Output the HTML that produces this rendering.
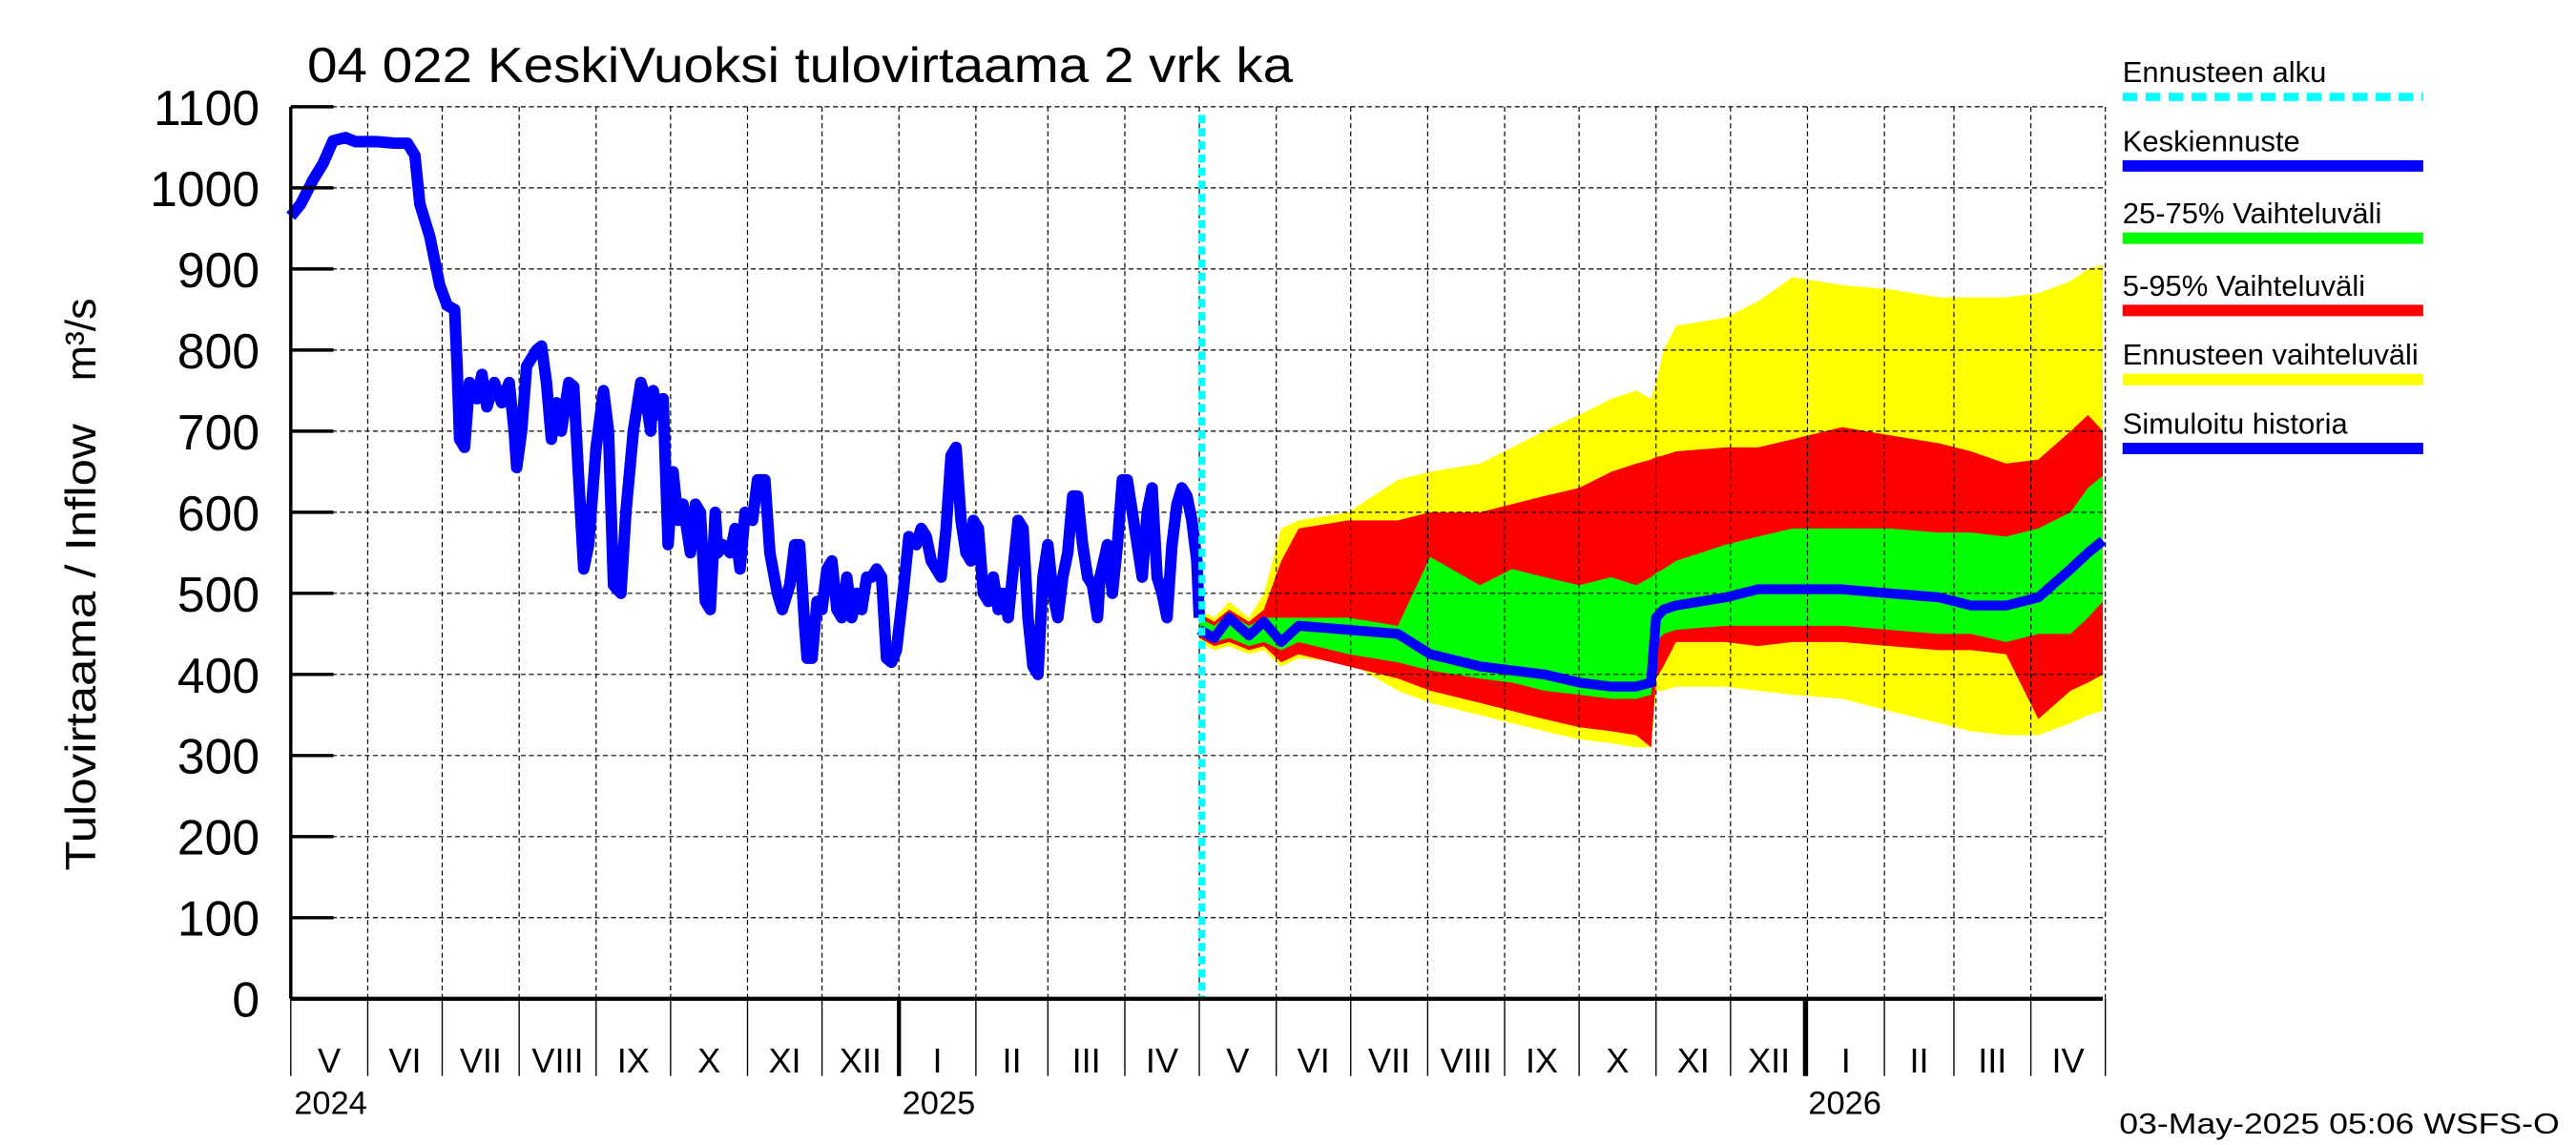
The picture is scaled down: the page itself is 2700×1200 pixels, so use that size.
<!DOCTYPE html>
<html><head><meta charset="utf-8"><style>
html,body{margin:0;padding:0;background:#fff;}
svg{display:block;font-family:"Liberation Sans",sans-serif;}
</style></head><body>
<svg id="chart" width="2700" height="1200" viewBox="0 0 1568 697" preserveAspectRatio="none" xmlns="http://www.w3.org/2000/svg">
<rect width="1568" height="697" fill="#fff"/>
<g id="bands"></g>
<g id="grid"></g>
<g id="lines"></g>
<g id="axes"></g>
<text x="187" y="50" font-size="30" textLength="600" lengthAdjust="spacingAndGlyphs">04 022 KeskiVuoksi tulovirtaama 2 vrk ka</text>
<text transform="translate(58,530) rotate(-90)" font-size="26" textLength="272" lengthAdjust="spacingAndGlyphs">Tulovirtaama / Inflow</text>
<text transform="translate(58,232) rotate(-90)" font-size="26">m³/s</text>
<text x="1290" y="690" font-size="18" textLength="268" lengthAdjust="spacingAndGlyphs">03-May-2025 05:06 WSFS-O</text>
<g id="legend"></g>
</svg>
<script>
const yTicks=[0,100,200,300,400,500,600,700,800,900,1000,1100];
const monthLabels=["V","VI","VII","VIII","IX","X","XI","XII","I","II","III","IV","V","VI","VII","VIII","IX","X","XI","XII","I","II","III","IV"];
const monthStartDays=[0,31,61,92,123,153,184,214,245,276,305,336,366,397,427,458,489,519,550,580,611,642,670,701,731];
const yearLabels=["2024","2025","2026"];
const yearDays=[0,245,610];
const forecastStartDay=367;
const histDays=[0,4,9,13,17,22,26,35,42,47,50,52,56,60,63,66,67,68,70,72,75,77,79,82,85,88,90,91,93,95,99,101,103,105,107,109,112,114,116,118,120,123,126,128,130,133,135,138,141,143,145,146,148,150,152,154,156,158,161,163,165,167,169,171,172,174,177,179,181,183,186,188,191,193,196,198,201,203,205,207,208,210,212,214,216,218,220,222,224,226,228,230,232,234,236,238,240,242,244,247,249,252,254,256,258,260,262,264,266,268,270,272,274,275,277,279,281,283,285,287,289,291,293,295,297,299,301,303,305,307,309,311,313,315,317,319,321,323,325,326,329,331,333,335,337,339,341,343,345,347,349,351,353,355,357,359,361,363,365,366];
const histValues=[965,980,1010,1030,1058,1062,1057,1057,1055,1055,1040,980,940,880,855,850,780,690,680,760,740,770,730,760,735,760,700,655,700,780,800,805,760,690,735,700,760,755,640,530,560,680,750,700,510,500,600,700,760,740,700,750,720,740,560,650,590,610,550,610,600,490,480,600,550,560,550,580,530,600,590,640,640,550,500,480,510,560,560,460,420,420,490,480,530,540,480,470,520,470,500,480,520,520,530,520,420,415,430,510,570,560,580,570,540,530,520,580,670,680,590,550,540,590,580,500,490,520,480,500,470,530,590,580,470,410,400,520,560,500,470,520,550,620,620,560,520,510,470,520,560,500,560,640,640,600,560,520,600,630,520,500,470,560,610,630,620,590,540,470];
const fcDays=[366,372,378,386,392,399,406,426,446,459,479,492,505,519,532,542,548,550,553,558,578,591,605,625,644,664,677,691,704,717,724,730];
const fcMax=[480,470,490,470,500,580,590,600,640,650,660,680,700,720,740,750,740,760,800,830,840,860,890,880,875,865,865,865,870,885,900,905];
const fcMin=[440,430,435,425,430,410,420,415,380,365,350,340,330,320,315,310,310,380,380,385,385,380,375,370,355,340,330,325,325,340,350,355];
const fc95=[475,465,480,465,480,540,580,590,590,600,600,610,620,630,650,660,665,668,670,675,680,680,690,705,695,685,675,660,665,700,720,700];
const fc05=[445,435,440,430,435,415,425,410,395,380,365,355,345,335,330,325,310,395,410,440,440,435,440,440,435,430,430,425,345,380,390,400];
const fc75=[470,460,475,460,470,470,470,470,460,545,510,530,520,510,520,510,520,525,530,540,560,570,580,580,580,575,575,570,580,600,630,645];
const fc25=[450,440,445,435,440,430,440,425,415,405,395,390,380,375,370,370,375,440,450,455,460,460,460,460,455,450,450,440,450,450,470,490];
const fcMedian=[455,445,470,448,465,440,460,455,450,425,410,405,400,390,385,385,390,470,480,485,495,505,505,505,500,495,485,485,495,530,550,565];

const NS="http://www.w3.org/2000/svg";
const X0=177,X1=1280,Y0=608,Y1=65,D1=730,V1=1100;
const xs=d=>X0+(X1-X0)*d/D1;
const ys=v=>Y0-(Y0-Y1)*v/V1;
function mk(tag,attrs,parent){const e=document.createElementNS(NS,tag);for(const k in attrs)e.setAttribute(k,attrs[k]);document.getElementById(parent).appendChild(e);return e;}
function band(up,lo,color,name){
  let d="M"+fcDays.map((t,i)=>xs(t)+","+ys(up[i])).join("L");
  for(let i=fcDays.length-1;i>=0;i--)d+="L"+xs(fcDays[i])+","+ys(lo[i]);
  const p=mk("path",{d:d+"Z",fill:color},"bands");
  
  
}
band(fcMax,fcMin,"#ffff00","band-forecast-range");
band(fc95,fc05,"#ff0000","band-5-95");
band(fc75,fc25,"#00ff00","band-25-75");
yTicks.forEach(v=>{
  if(v===0)return;
  const l=mk("line",{x1:X0,x2:X1,y1:ys(v),y2:ys(v),stroke:"#000","stroke-width":0.7,"stroke-dasharray":"3,2"},"grid");
  
  
});
monthStartDays.forEach((d,i)=>{
  if(i===0)return;
  const l=mk("line",{x1:xs(d),x2:xs(d),y1:Y1,y2:Y0,stroke:"#000","stroke-width":0.7,"stroke-dasharray":"3,2"},"grid");
  
  
});
const hp=mk("polyline",{points:histDays.map((d,i)=>xs(d)+","+ys(histValues[i])).join(" "),fill:"none",stroke:"#0000ff","stroke-width":7,"stroke-linejoin":"round"},"lines");


const mp=mk("polyline",{points:fcDays.map((d,i)=>xs(d)+","+ys(fcMedian[i])).join(" "),fill:"none",stroke:"#0000ff","stroke-width":6,"stroke-linejoin":"round"},"lines");


const fs=mk("line",{x1:xs(forecastStartDay),x2:xs(forecastStartDay),y1:Y1+5,y2:Y0,stroke:"#00ffff","stroke-width":4,"stroke-dasharray":"5,3"},"lines");


const ay=mk("line",{x1:X0,x2:X0,y1:Y1,y2:Y0,stroke:"#000","stroke-width":2},"axes");


const ax=mk("line",{x1:X0,x2:X1,y1:Y0,y2:Y0,stroke:"#000","stroke-width":2.5},"axes");


yTicks.forEach(v=>{
  const t=mk("line",{x1:X0,x2:X0+26,y1:ys(v),y2:ys(v),stroke:"#000","stroke-width":2},"axes");
  
  
  const tx=mk("text",{x:158,y:ys(v)+11,"text-anchor":"end","font-size":30},"axes");
  
  
  tx.textContent=v;
});
monthStartDays.forEach((d,i)=>{
  const t=mk("line",{x1:xs(d),x2:xs(d),y1:Y0,y2:655,stroke:"#000","stroke-width":0.8},"axes");
  
  
  if(i<monthLabels.length){
    const tx=mk("text",{x:(xs(d)+xs(monthStartDays[i+1]))/2,y:653,"text-anchor":"middle","font-size":21},"axes");
    
    
    tx.textContent=monthLabels[i];
  }
});
yearDays.forEach((d,i)=>{
  if(i>0){const t=mk("line",{x1:xs(d),x2:xs(d),y1:Y0,y2:655,stroke:"#000","stroke-width":2.5},"axes");
  
  }
  const tx=mk("text",{x:xs(d)+2,y:678,"font-size":20},"axes");
  
  
  tx.textContent=yearLabels[i];
});
const leg=[["Ennusteen alku","#00ffff",true],["Keskiennuste","#0000ff"],["25-75% Vaihteluväli","#00ff00"],["5-95% Vaihteluväli","#ff0000"],["Ennusteen vaihteluväli","#ffff00"],["Simuloitu historia","#0000ff"]];
const legY=[50,92,136,180,222,264];
leg.forEach((e,i)=>{
  const tx=mk("text",{x:1292,y:legY[i],"font-size":18},"legend");
  
  
  tx.textContent=e[0];
  const ln=mk("line",{x1:1292,x2:1475,y1:legY[i]+9,y2:legY[i]+9,stroke:e[1],"stroke-width":e[2]?5:7,"stroke-dasharray":e[2]?"9,5":"none"},"legend");
  
  
});
</script>
</body></html>
